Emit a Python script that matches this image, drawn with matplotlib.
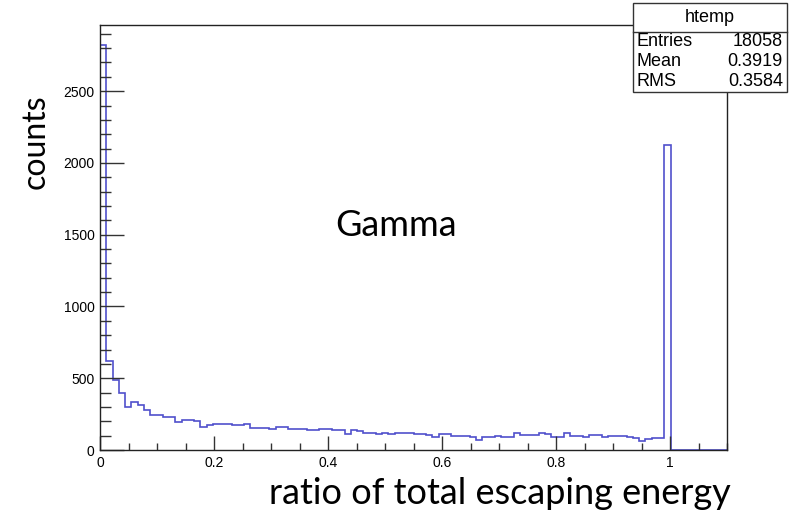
import numpy as np
import matplotlib
matplotlib.use("Agg")
import matplotlib.pyplot as plt
from matplotlib.ticker import MultipleLocator
from matplotlib.patches import Rectangle
from matplotlib.lines import Line2D

# htemp: 100 bins on [0, 1.1]
x_min, x_max, n_bins = 0.0, 1.1, 100
counts = [
    2820, 622, 487, 395, 302, 337, 314, 279, 244, 244,
    228, 228, 197, 209, 209, 202, 163, 172, 179, 179,
    179, 172, 175, 179, 156, 156, 156, 149, 163, 163,
    144, 144, 144, 140, 140, 144, 144, 140, 140, 110,
    140, 130, 121, 121, 110, 121, 110, 121, 116, 116,
    111, 108, 104, 92, 111, 111, 97, 97, 97, 92,
    70, 88, 88, 97, 92, 92, 121, 104, 104, 104,
    116, 111, 88, 88, 116, 97, 97, 88, 104, 104,
    88, 97, 97, 97, 88, 81, 65, 74, 81, 81,
    2125, 0, 0, 0, 0, 0, 0, 0, 0, 0,
]
stats_names = ["Entries", "Mean", "RMS"]
stats_values = ["18058", "0.3919", "0.3584"]

edges = np.linspace(x_min, x_max, n_bins + 1)

fig = plt.figure(figsize=(7.93, 5.15), dpi=100)
ax = fig.add_axes([100 / 793, 1 - 450 / 515, 627 / 793, 425 / 515])

ax.stairs(counts, edges, baseline=0, color="#5050cc", lw=1.2)

ax.set_xlim(x_min, x_max)
ax.set_ylim(0, max(counts) * 1.05)

ax.xaxis.set_major_locator(MultipleLocator(0.2))
ax.xaxis.set_minor_locator(MultipleLocator(0.05))
ax.yaxis.set_major_locator(MultipleLocator(500))
ax.yaxis.set_minor_locator(MultipleLocator(100))
ax.xaxis.set_major_formatter(lambda v, p: "%g" % round(v, 2))
ax.tick_params(which="both", direction="in", top=False, right=False,
               color="#333333", width=1, labelsize=10)
ax.tick_params(axis="x", which="major", length=10, pad=4)
ax.tick_params(axis="x", which="minor", length=5)
ax.tick_params(axis="y", which="major", length=17, pad=4)
ax.tick_params(axis="y", which="minor", length=8)
for lbl in ax.get_xticklabels() + ax.get_yticklabels():
    lbl.set_fontfamily("Liberation Sans")
for s in ax.spines.values():
    s.set_linewidth(1.0)
    s.set_color("#222222")

ax.text(0.519, 1567, "Gamma", fontsize=26, family="Lato", ha="center", va="center")
fig.text(500 / 793, 1 - 493 / 515, "ratio of total escaping energy",
         fontsize=26, family="Lato", ha="center", va="center")
fig.text(36 / 793, 1 - 142 / 515, "counts", fontsize=23, family="Lato",
         rotation=90, ha="center", va="center")

# stats box
bx0, bx1 = 633 / 793, 787 / 793
by0, by1 = 1 - 92 / 515, 1 - 3 / 515
fig.patches.append(Rectangle((bx0, by0), bx1 - bx0, by1 - by0, transform=fig.transFigure,
                             facecolor="white", edgecolor="#333333", lw=1, zorder=5))
sep = 1 - 32 / 515
fig.lines.append(Line2D([bx0, bx1], [sep, sep], transform=fig.transFigure,
                        color="#333333", lw=1, zorder=6))
fig.text((bx0 + bx1) / 2, 1 - 18 / 515, "htemp", fontsize=13, family="Liberation Sans",
         ha="center", va="center", zorder=7)
for i, (name, val) in enumerate(zip(stats_names, stats_values)):
    yy = 1 - (41 + 20.5 * i) / 515
    fig.text(636 / 793, yy, name, fontsize=13, family="Liberation Sans",
             ha="left", va="center", zorder=7)
    fig.text(783 / 793, yy, val, fontsize=13, family="Liberation Sans",
             ha="right", va="center", zorder=7)

fig.savefig("out.png", dpi=100)
